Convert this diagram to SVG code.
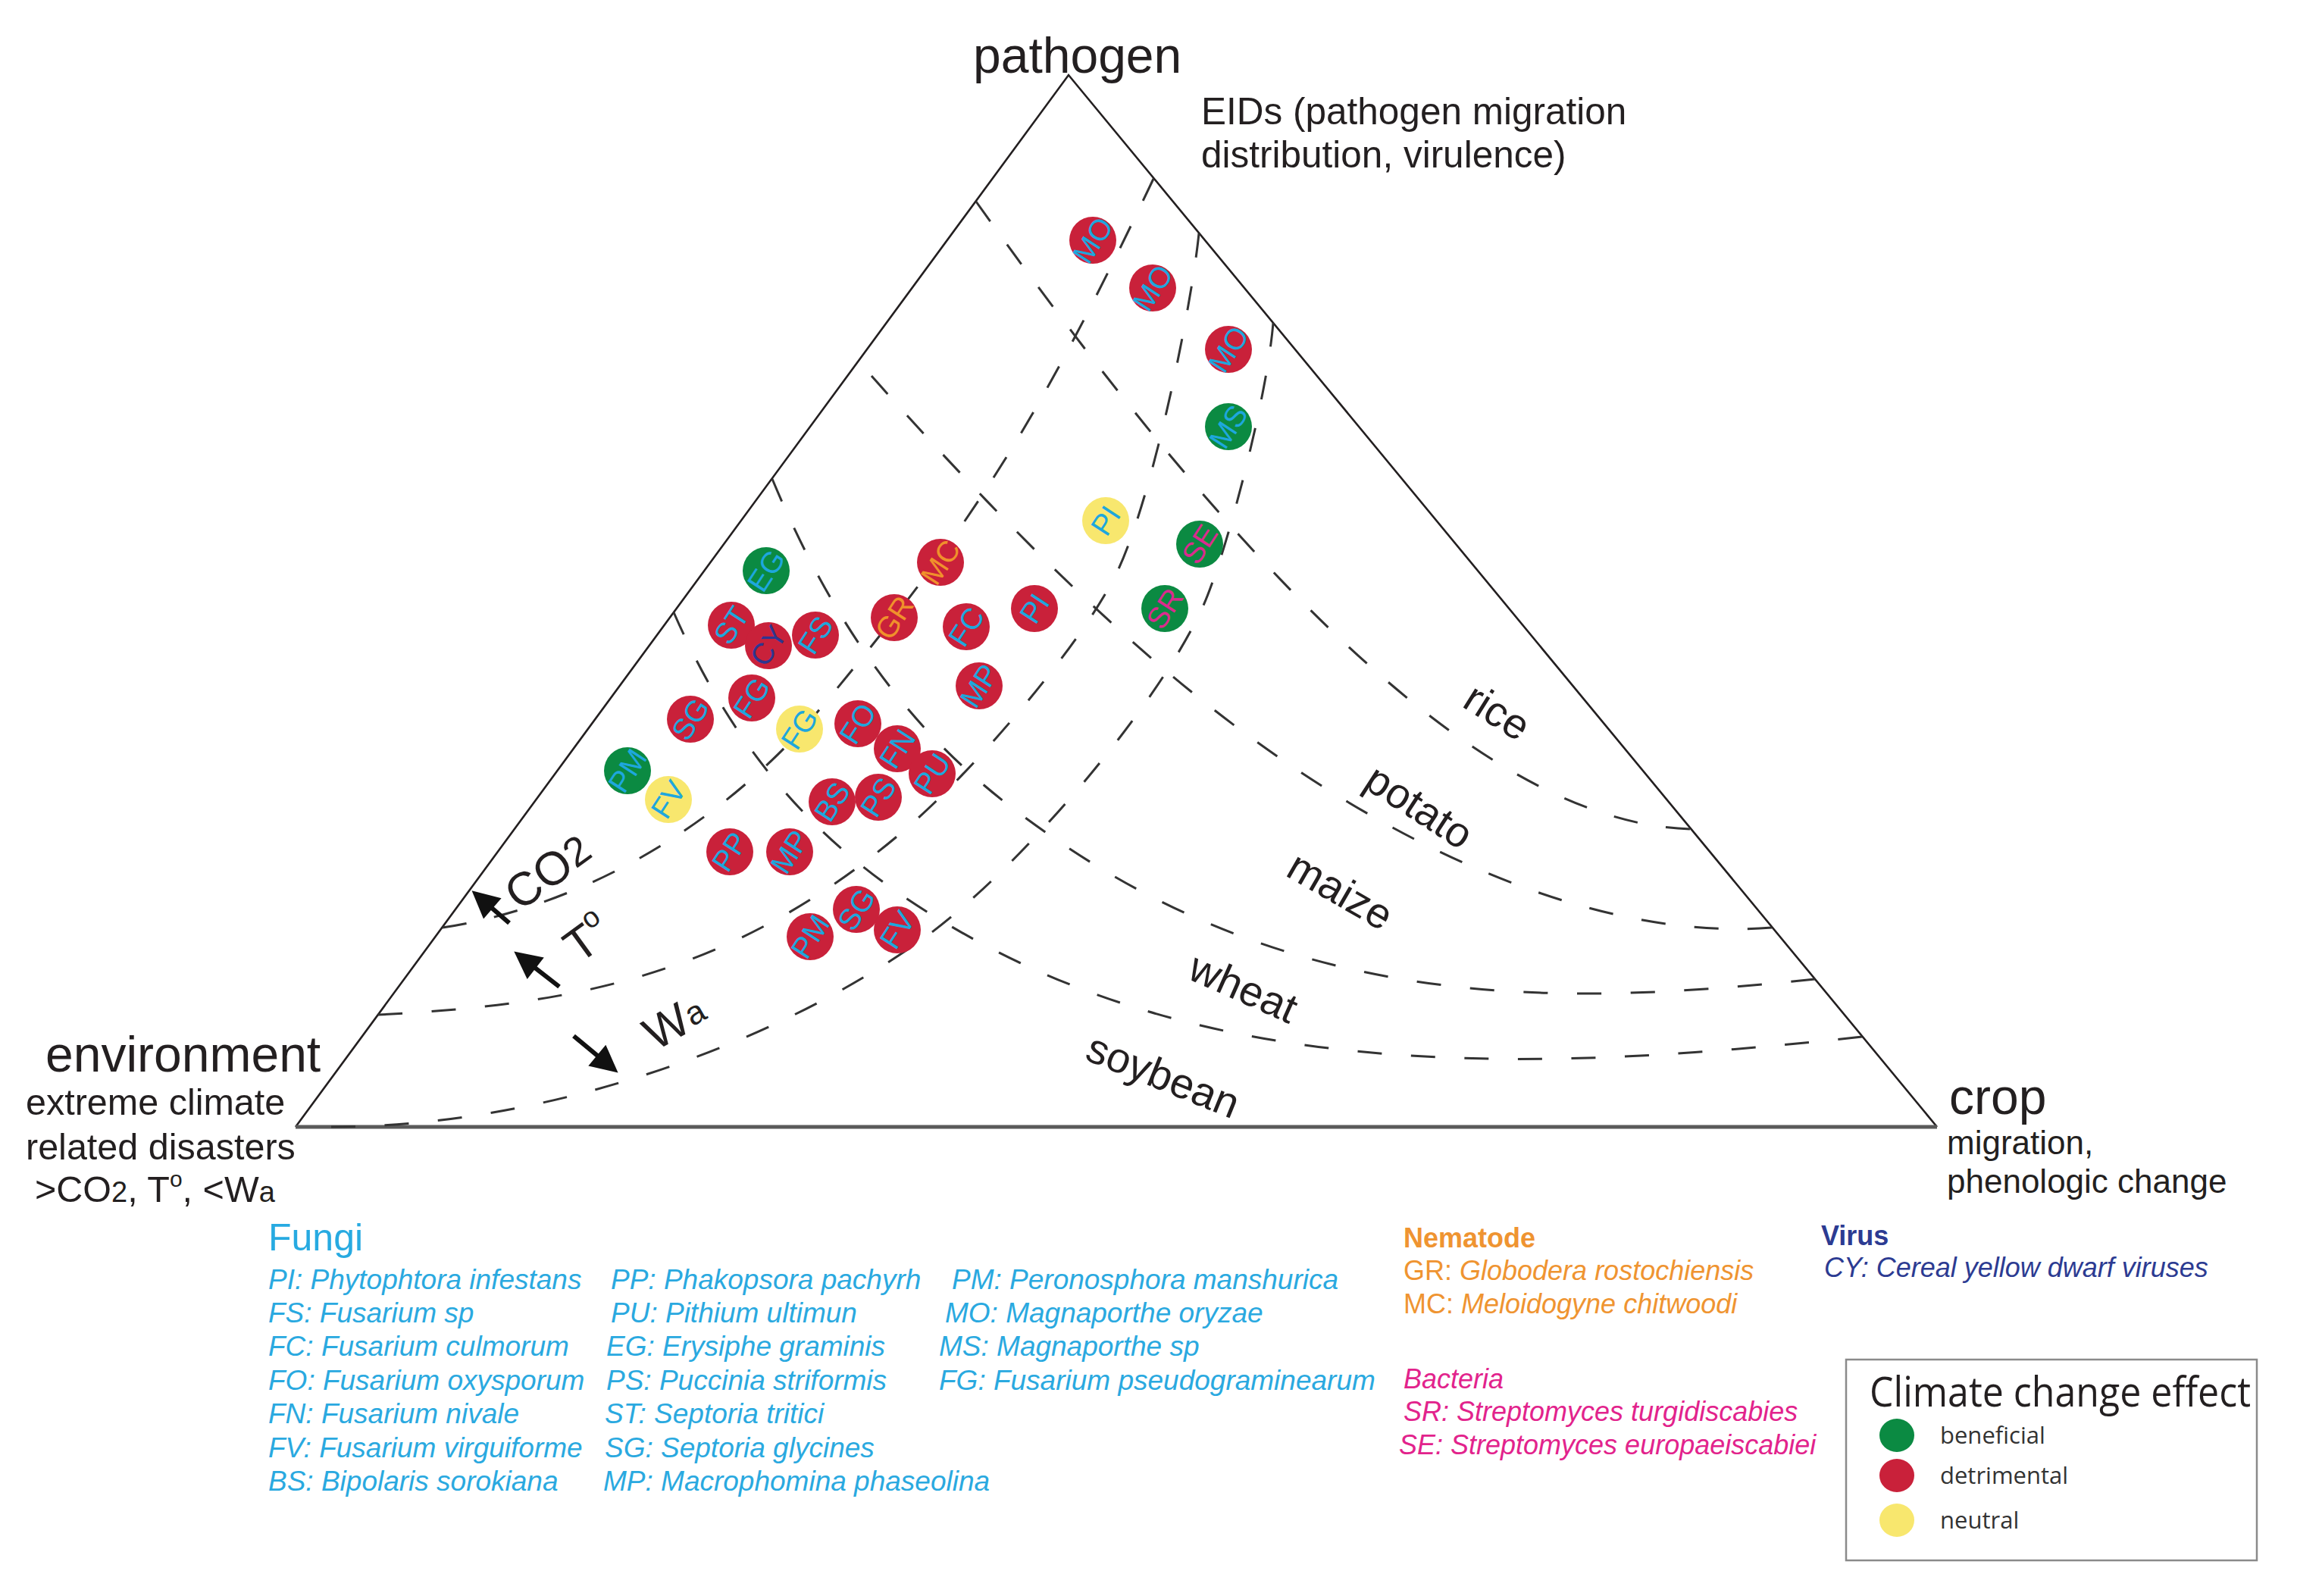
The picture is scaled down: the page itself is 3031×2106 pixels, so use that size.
<svg xmlns="http://www.w3.org/2000/svg" width="3031" height="2106" viewBox="0 0 3031 2106">
<style>
text{font-family:"Liberation Sans",Arial,sans-serif;fill:#231f20}
.edge{fill:none;stroke:#231f20;stroke-width:2.6}
.base{stroke:#5a5a5a;stroke-width:5}
.dash{fill:none;stroke:#333;stroke-width:3}
.t66{font-size:66px}
.t50{font-size:49.5px}
.t48{font-size:48.5px}
.t44{font-size:44px}
.crop{font-size:56px;text-anchor:middle;dominant-baseline:central}
.env{font-size:62px;text-anchor:middle;dominant-baseline:central}
.red{fill:#c9213a}.green{fill:#0b8a42}.yellow{fill:#f8e76e}
.lb{font-size:39px;text-anchor:middle;dominant-baseline:central}
.cb{fill:#1ea7dd}.co{fill:#f0912b}.cm{fill:#dc2a8e}.cd{fill:#2e3590}
.sp{font-size:37px;font-style:italic;fill:#2aa9e0}
.nem{font-size:36px;font-style:italic;fill:#ef9431}
.vir{font-size:36px;font-style:italic;fill:#2c3b92}
.bac{font-size:36px;font-style:italic;fill:#e2238c}
.bold{font-weight:bold;font-style:normal}
.leg{font-family:"Open Sans","Liberation Sans",sans-serif;font-size:31px;fill:#333}
.arr{stroke:#111;stroke-width:6;marker-end:url(#ah)}
</style>
<defs>
<marker id="ah" viewBox="0 0 10 10" refX="8" refY="5" markerWidth="40" markerHeight="36" markerUnits="userSpaceOnUse" orient="auto"><path d="M0,0 L10,5 L0,10 z" fill="#111"/></marker>
</defs>
<rect width="3031" height="2106" fill="#fff"/>

<g id="frame">
<path class="edge" d="M390,1487 L1410,99 L2556,1487"/>
<line class="base" x1="390" y1="1487" x2="2556" y2="1487"/>
</g>

<g id="connectors">
<path class="dash" pathLength="1000" stroke-dasharray="24.9 29.27" d="M1288,266 C1588,686 1930,1085 2230,1094"/>
<path class="dash" pathLength="1000" stroke-dasharray="22.35 26.53" d="M1150,496 C1300,665 1470,840 1638,964 C1888,1149 2138,1240 2338,1224"/>
<path class="dash" pathLength="1000" stroke-dasharray="19.36 23.28" d="M1019,632 C1139,920 1285,1032 1385,1102 C1735,1347 2095,1323 2395,1292"/>
<path class="dash" pathLength="1000" stroke-dasharray="17.82 21.47" d="M889,808 C999,1061 1156,1168 1286,1240 C1636,1432 2057,1412 2457,1368"/>
<path class="dash" pathLength="1000" stroke-dasharray="22.6 26.27" d="M584,1224 C755,1198 945,1100 1085,932 C1285,692 1372,552 1522,236"/>
<path class="dash" pathLength="1000" stroke-dasharray="19.34 23.3" d="M499,1339 C749,1326 964,1291 1194,1095 C1284,1018 1419,860 1469,765 C1519,670 1572,407 1582,308"/>
<path class="dash" pathLength="1000" stroke-dasharray="17.82 21.47" d="M437,1487 C715,1487 1012,1383 1212,1243 C1342,1152 1527,933 1587,801 C1617,735 1672,526 1680,426"/>
<line class="arr" x1="672" y1="1218" x2="628" y2="1180"/>
<line class="arr" x1="738" y1="1302" x2="684" y2="1260"/>
<line class="arr" x1="757" y1="1367" x2="810" y2="1411"/>
</g>

<g id="titles">
<text class="t66" x="1284" y="96">pathogen</text>
<text class="t50" x="1585" y="164">EIDs (pathogen migration</text>
<text class="t50" x="1585" y="221">distribution, virulence)</text>
<text class="t66" x="60" y="1414">environment</text>
<text class="t48" x="34" y="1471">extreme climate</text>
<text class="t48" x="34" y="1530">related disasters</text>
<text class="t48" x="46" y="1586">&gt;CO<tspan font-size="38">2</tspan>, T<tspan font-size="30" dy="-20">o</tspan><tspan dy="20">, &lt;W</tspan><tspan font-size="38">a</tspan></text>
<text class="t66" x="2572" y="1470">crop</text>
<text class="t44" x="2569" y="1523">migration,</text>
<text class="t44" x="2569" y="1574">phenologic change</text>
</g>

<g id="crop-labels">
<text class="crop" x="1976" y="939" transform="rotate(32 1976 939)">rice</text>
<text class="crop" x="1873" y="1064" transform="rotate(33 1873 1064)">potato</text>
<text class="crop" x="1769" y="1175" transform="rotate(30 1769 1175)">maize</text>
<text class="crop" x="1641" y="1303" transform="rotate(24 1641 1303)">wheat</text>
<text class="crop" x="1535" y="1419" transform="rotate(22 1535 1419)">soybean</text>
</g>

<g id="env-labels">
<text class="env" x="723" y="1150" transform="rotate(-36 723 1150)">CO<tspan font-size="54">2</tspan></text>
<text class="env" x="775" y="1238" transform="rotate(-36 775 1238)">T<tspan font-size="38" dy="-20">o</tspan></text>
<text class="env" x="890" y="1348" transform="rotate(-30 890 1348)">W<tspan font-size="44" dy="2">a</tspan></text>
</g>

<g id="nodes">
<g id="n-mo1"><circle class="red" cx="1442" cy="317" r="31"/><text class="lb cb" x="1442" y="317" transform="rotate(-57 1442 317)">MO</text></g>
<g id="n-mo2"><circle class="red" cx="1521" cy="380" r="31"/><text class="lb cb" x="1521" y="380" transform="rotate(-57 1521 380)">MO</text></g>
<g id="n-mo3"><circle class="red" cx="1621" cy="461" r="31"/><text class="lb cb" x="1621" y="461" transform="rotate(-57 1621 461)">MO</text></g>
<g id="n-ms"><circle class="green" cx="1621" cy="563" r="31"/><text class="lb cb" x="1621" y="563" transform="rotate(-57 1621 563)">MS</text></g>
<g id="n-pi1"><circle class="yellow" cx="1459" cy="687" r="31"/><text class="lb cb" x="1459" y="687" transform="rotate(-57 1459 687)">PI</text></g>
<g id="n-se"><circle class="green" cx="1583" cy="718" r="31"/><text class="lb cm" x="1583" y="718" transform="rotate(-57 1583 718)">SE</text></g>
<g id="n-sr"><circle class="green" cx="1537" cy="803" r="31"/><text class="lb cm" x="1537" y="803" transform="rotate(-57 1537 803)">SR</text></g>
<g id="n-eg"><circle class="green" cx="1011" cy="753" r="31"/><text class="lb cb" x="1011" y="753" transform="rotate(-57 1011 753)">EG</text></g>
<g id="n-mc"><circle class="red" cx="1241" cy="742" r="31"/><text class="lb co" x="1241" y="742" transform="rotate(-57 1241 742)">MC</text></g>
<g id="n-st"><circle class="red" cx="965" cy="825" r="31"/><text class="lb cb" x="965" y="825" transform="rotate(-57 965 825)">ST</text></g>
<g id="n-cy"><circle class="red" cx="1014" cy="852" r="31"/><text class="lb cd" x="1014" y="852" transform="rotate(-57 1014 852)">CY</text></g>
<g id="n-fs"><circle class="red" cx="1076" cy="838" r="31"/><text class="lb cb" x="1076" y="838" transform="rotate(-57 1076 838)">FS</text></g>
<g id="n-gr"><circle class="red" cx="1180" cy="815" r="31"/><text class="lb co" x="1180" y="815" transform="rotate(-57 1180 815)">GR</text></g>
<g id="n-fc"><circle class="red" cx="1275" cy="827" r="31"/><text class="lb cb" x="1275" y="827" transform="rotate(-57 1275 827)">FC</text></g>
<g id="n-pi2"><circle class="red" cx="1365" cy="803" r="31"/><text class="lb cb" x="1365" y="803" transform="rotate(-57 1365 803)">PI</text></g>
<g id="n-mp1"><circle class="red" cx="1292" cy="905" r="31"/><text class="lb cb" x="1292" y="905" transform="rotate(-57 1292 905)">MP</text></g>
<g id="n-sg1"><circle class="red" cx="911" cy="949" r="31"/><text class="lb cb" x="911" y="949" transform="rotate(-57 911 949)">SG</text></g>
<g id="n-fg1"><circle class="red" cx="992" cy="921" r="31"/><text class="lb cb" x="992" y="921" transform="rotate(-57 992 921)">FG</text></g>
<g id="n-fg2"><circle class="yellow" cx="1055" cy="962" r="31"/><text class="lb cb" x="1055" y="962" transform="rotate(-57 1055 962)">FG</text></g>
<g id="n-fo"><circle class="red" cx="1132" cy="955" r="31"/><text class="lb cb" x="1132" y="955" transform="rotate(-57 1132 955)">FO</text></g>
<g id="n-fn"><circle class="red" cx="1184" cy="988" r="31"/><text class="lb cb" x="1184" y="988" transform="rotate(-57 1184 988)">FN</text></g>
<g id="n-pu"><circle class="red" cx="1230" cy="1021" r="31"/><text class="lb cb" x="1230" y="1021" transform="rotate(-57 1230 1021)">PU</text></g>
<g id="n-pm1"><circle class="green" cx="828" cy="1017" r="31"/><text class="lb cb" x="828" y="1017" transform="rotate(-57 828 1017)">PM</text></g>
<g id="n-fv1"><circle class="yellow" cx="882" cy="1055" r="31"/><text class="lb cb" x="882" y="1055" transform="rotate(-57 882 1055)">FV</text></g>
<g id="n-bs"><circle class="red" cx="1098" cy="1058" r="31"/><text class="lb cb" x="1098" y="1058" transform="rotate(-57 1098 1058)">BS</text></g>
<g id="n-ps"><circle class="red" cx="1159" cy="1052" r="31"/><text class="lb cb" x="1159" y="1052" transform="rotate(-57 1159 1052)">PS</text></g>
<g id="n-pp"><circle class="red" cx="963" cy="1124" r="31"/><text class="lb cb" x="963" y="1124" transform="rotate(-57 963 1124)">PP</text></g>
<g id="n-mp2"><circle class="red" cx="1042" cy="1124" r="31"/><text class="lb cb" x="1042" y="1124" transform="rotate(-57 1042 1124)">MP</text></g>
<g id="n-pm2"><circle class="red" cx="1069" cy="1236" r="31"/><text class="lb cb" x="1069" y="1236" transform="rotate(-57 1069 1236)">PM</text></g>
<g id="n-sg2"><circle class="red" cx="1130" cy="1200" r="31"/><text class="lb cb" x="1130" y="1200" transform="rotate(-57 1130 1200)">SG</text></g>
<g id="n-fv2"><circle class="red" cx="1184" cy="1227" r="31"/><text class="lb cb" x="1184" y="1227" transform="rotate(-57 1184 1227)">FV</text></g>
</g>

<g id="legend-fungi">
<text x="354" y="1650" font-size="50" style="fill:#27aae1">Fungi</text>
<text class="sp" x="354" y="1701">PI: Phytophtora infestans</text>
<text class="sp" x="354" y="1745">FS: Fusarium sp</text>
<text class="sp" x="354" y="1789">FC: Fusarium culmorum</text>
<text class="sp" x="354" y="1834">FO: Fusarium oxysporum</text>
<text class="sp" x="354" y="1878">FN: Fusarium nivale</text>
<text class="sp" x="354" y="1923">FV: Fusarium virguiforme</text>
<text class="sp" x="354" y="1967">BS: Bipolaris sorokiana</text>
<text class="sp" x="806" y="1701">PP: Phakopsora pachyrh</text>
<text class="sp" x="806" y="1745">PU: Pithium ultimun</text>
<text class="sp" x="800" y="1789">EG: Erysiphe graminis</text>
<text class="sp" x="800" y="1834">PS: Puccinia striformis</text>
<text class="sp" x="798" y="1878">ST: Septoria tritici</text>
<text class="sp" x="798" y="1923">SG: Septoria glycines</text>
<text class="sp" x="796" y="1967">MP: Macrophomina phaseolina</text>
<text class="sp" x="1256" y="1701">PM: Peronosphora manshurica</text>
<text class="sp" x="1247" y="1745">MO: Magnaporthe oryzae</text>
<text class="sp" x="1239" y="1789">MS: Magnaporthe sp</text>
<text class="sp" x="1239" y="1834">FG: Fusarium pseudograminearum</text>
</g>

<g id="legend-nematode">
<text class="nem bold" x="1852" y="1646">Nematode</text>
<text class="nem" x="1852" y="1689"><tspan font-style="normal">GR: </tspan>Globodera rostochiensis</text>
<text class="nem" x="1852" y="1733"><tspan font-style="normal">MC: </tspan>Meloidogyne chitwoodi</text>
</g>

<g id="legend-virus">
<text class="vir bold" x="2403" y="1643">Virus</text>
<text class="vir" x="2407" y="1685">CY: Cereal yellow dwarf viruses</text>
</g>

<g id="legend-bacteria">
<text class="bac" x="1852" y="1832">Bacteria</text>
<text class="bac" x="1852" y="1875">SR: Streptomyces turgidiscabies</text>
<text class="bac" x="1846" y="1919">SE: Streptomyces europaeiscabiei</text>
</g>

<g id="legend-effect">
<rect x="2436" y="1794" width="542" height="265" fill="#fff" stroke="#8a8a8a" stroke-width="2.5"/>
<text x="2467" y="1856" font-size="54" textLength="503" lengthAdjust="spacingAndGlyphs" style="font-family:'Open Sans','Liberation Sans',sans-serif">Climate change effect</text>
<ellipse class="green" cx="2503" cy="1894" rx="23" ry="22"/>
<ellipse class="red" cx="2503" cy="1947" rx="23" ry="22"/>
<ellipse class="yellow" cx="2503" cy="2006" rx="23" ry="22"/>
<text class="leg" x="2560" y="1905">beneficial</text>
<text class="leg" x="2560" y="1958">detrimental</text>
<text class="leg" x="2560" y="2017">neutral</text>
</g>
</svg>
